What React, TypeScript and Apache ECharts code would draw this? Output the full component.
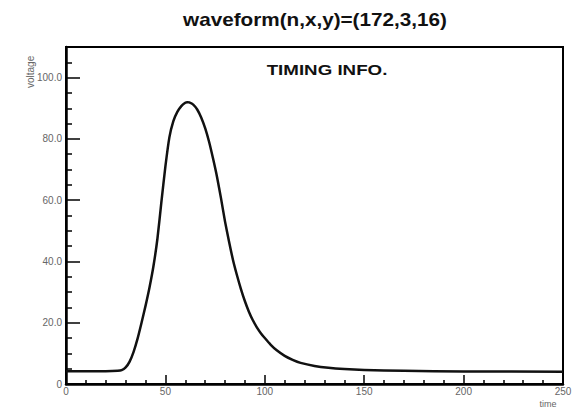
import React, { useEffect, useRef } from "react";
import * as echarts from "echarts";

const times = [0, 10, 20, 26, 28, 30, 32, 34, 36, 38, 40, 42, 44, 46, 48, 50, 52, 54, 56, 58, 60, 61, 62, 64, 66, 68, 70, 72, 74, 76, 78, 80, 82, 84, 86, 88, 90, 92, 94, 96, 98, 100, 103, 106, 110, 114, 118, 125, 132, 140, 150, 170, 200, 250];
const voltage = [4.2, 4.2, 4.2, 4.3, 4.5, 5.4, 7.3, 10.5, 14.8, 20, 25.5, 31.5, 38.5, 47.5, 59.5, 71, 80.5, 85.8, 88.8, 90.7, 91.8, 92, 91.9, 91.2, 89.6, 87, 83.5, 79, 73.5, 67.5, 60.5, 53, 46.5, 40.5, 35.5, 31, 27, 23.6, 20.8, 18.5, 16.6, 15, 12.8, 11, 9.2, 7.9, 6.9, 5.9, 5.3, 4.9, 4.6, 4.3, 4.1, 4.0];

const titleText = "waveform(n,x,y)=(172,3,16)";
const infoText = "TIMING INFO.";
const xName = "time";
const yName = "voltage";

export default function App() {
  const ref = useRef<HTMLDivElement>(null);
  useEffect(() => {
    if (!ref.current) return;
    const chart = echarts.init(ref.current, null, { renderer: "svg" });
    const font = "Liberation Sans, Arial, sans-serif";
    chart.setOption({
      animation: false,
      backgroundColor: "#fff",
      graphic: [
        {
          type: "text",
          x: 315,
          y: 20,
          scaleX: 1.15,
          style: {
            text: titleText,
            fontFamily: font,
            fontSize: 18,
            fontWeight: "bold",
            fill: "#111",
            textAlign: "center",
            textVerticalAlign: "middle",
          },
        },
        {
          type: "text",
          x: 327,
          y: 70,
          scaleX: 1.25,
          style: {
            text: infoText,
            fontFamily: font,
            fontSize: 15,
            fontWeight: "bold",
            fill: "#111",
            textAlign: "center",
            textVerticalAlign: "middle",
          },
        },
        {
          type: "text",
          x: 25,
          y: 88,
          rotation: Math.PI / 2,
          style: { text: yName, fontFamily: font, fontSize: 10, fill: "#666" },
        },
        {
          type: "text",
          x: 548,
          y: 404,
          style: { text: xName, fontFamily: font, fontSize: 9, fill: "#666", textAlign: "center", textVerticalAlign: "middle" },
        },
      ],
      grid: {
        left: 66,
        top: 47,
        width: 497,
        height: 337,
        show: true,
        borderColor: "#000",
        borderWidth: 2,
        backgroundColor: "transparent",
      },
      xAxis: {
        type: "value",
        min: 0,
        max: 250,
        interval: 50,
        axisLine: { show: true, lineStyle: { color: "#000", width: 2.5 } },
        axisTick: { show: true, inside: true, length: 9, lineStyle: { color: "#000", width: 1.5 } },
        minorTick: { show: true, splitNumber: 5, length: 4, lineStyle: { color: "#000", width: 1.5 } },
        splitLine: { show: false },
        axisLabel: { color: "#666", fontFamily: font, fontSize: 10, margin: 2 },
      },
      yAxis: {
        type: "value",
        min: 0,
        max: 110,
        interval: 20,
        axisLine: { show: true, lineStyle: { color: "#000", width: 2.5 } },
        axisTick: { show: true, inside: true, length: 14, lineStyle: { color: "#000", width: 1.5 } },
        minorTick: { show: true, splitNumber: 4, length: 6, lineStyle: { color: "#000", width: 1.5 } },
        splitLine: { show: false },
        axisLabel: {
          color: "#666",
          fontFamily: font,
          fontSize: 10,
          margin: 4,
          showMaxLabel: false,
          formatter: (v: number) => (v === 0 ? "0" : v.toFixed(1)),
        },
      },
      series: [
        {
          type: "line",
          data: times.map((t, i) => [t, voltage[i]]),
          smooth: 0.2,
          showSymbol: false,
          lineStyle: { color: "#111", width: 2.5, join: "round" },
        },
      ],
    });
    return () => chart.dispose();
  }, []);
  return <div ref={ref} style={{ width: 587, height: 416, margin: -8 }} />;
}
